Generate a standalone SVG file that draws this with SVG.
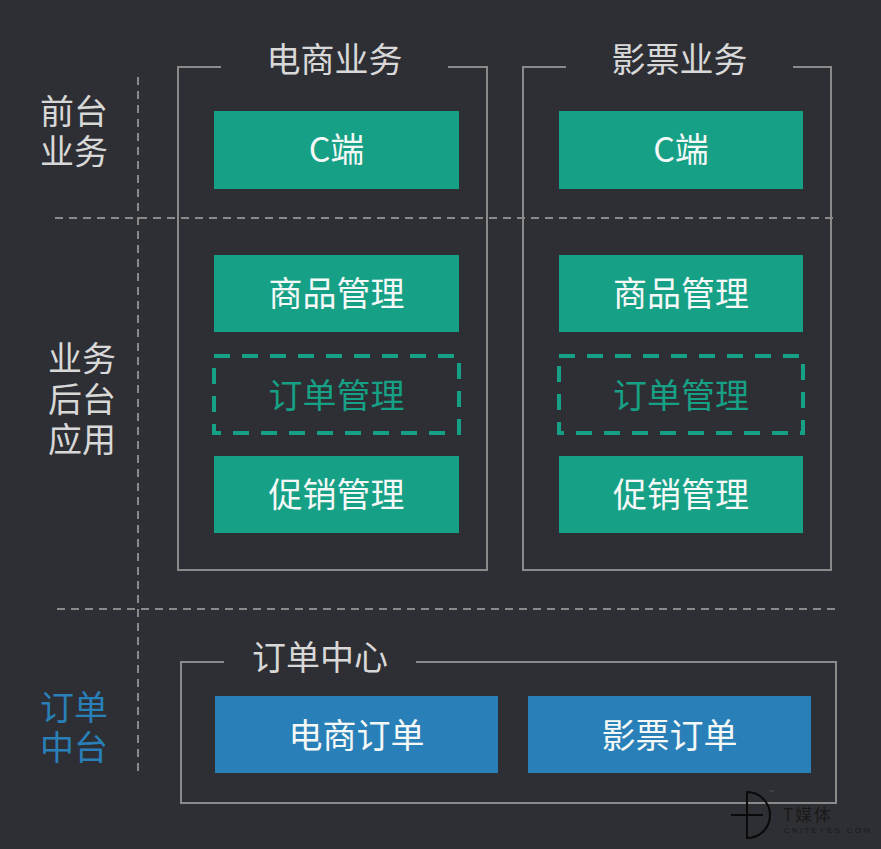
<svg xmlns="http://www.w3.org/2000/svg" width="881" height="849" viewBox="0 0 881 849">
<style>
text{font-family:"Noto Sans CJK SC","Noto Sans",sans-serif;font-size:34px;text-anchor:middle}
.l{fill:#d8d8d8}
.w{fill:#f4f8f6}
.g{fill:#16a085}
.b{fill:#2980b9}
.box{fill:none;stroke:#8a8a8a;stroke-width:2}
.div{fill:none;stroke:#8a8a8a;stroke-width:2;stroke-dasharray:8 6}
.dash{fill:none;stroke:#16a085;stroke-width:4;stroke-dasharray:16 12}
</style>
<rect width="881" height="849" fill="#2e2f34"/>
<g id="connectors">
<path class="div" d="M138 77V772"/>
<path class="div" d="M55 218H833"/>
<path class="div" d="M57 609H836"/>
</g>
<g id="group-ecommerce"><path class="box" d="M221 67H178V570H487V67H448"/><text class="l" x="334.500" y="72">电商业务</text></g>
<g id="group-movie"><path class="box" d="M566 67H523V570H831V67H793"/><text class="l" x="679.500" y="72">影票业务</text></g>
<g id="group-order"><path class="box" d="M224 662H181V803H836V662H416"/><text class="l" x="320" y="670">订单中心</text></g>
<g id="label-front"><text class="l"><tspan x="74" y="124">前台</tspan><tspan x="74" y="164">业务</tspan></text></g>
<g id="label-back"><text class="l"><tspan x="82" y="371">业务</tspan><tspan x="82" y="412">后台</tspan><tspan x="82" y="452">应用</tspan></text></g>
<g id="label-middle"><text class="b"><tspan x="74" y="720">订单</tspan><tspan x="74" y="760">中台</tspan></text></g>
<g id="c1"><rect class="g" x="214" y="111" width="245" height="78"/><text class="w" x="336.500" y="162">C端</text></g>
<g id="c2"><rect class="g" x="559" y="111" width="244" height="78"/><text class="w" x="681" y="162">C端</text></g>
<g id="goods1"><rect class="g" x="214" y="255" width="245" height="77"/><text class="w" x="336.500" y="306">商品管理</text></g>
<g id="goods2"><rect class="g" x="559" y="255" width="244" height="77"/><text class="w" x="681" y="306">商品管理</text></g>
<g id="order1"><path class="dash" d="M214 356H459V433H214Z"/><text class="g" x="336.500" y="408">订单管理</text></g>
<g id="order2"><path class="dash" d="M559 356H803V433H559Z"/><text class="g" x="681" y="408">订单管理</text></g>
<g id="promo1"><rect class="g" x="214" y="456" width="245" height="77"/><text class="w" x="336.500" y="507">促销管理</text></g>
<g id="promo2"><rect class="g" x="559" y="456" width="244" height="77"/><text class="w" x="681" y="507">促销管理</text></g>
<g id="order-ec"><rect class="b" x="215" y="696" width="283" height="77"/><text class="w" x="356.500" y="748">电商订单</text></g>
<g id="order-movie"><rect class="b" x="528" y="696" width="283" height="77"/><text class="w" x="669.500" y="748">影票订单</text></g>
<g id="logo">
<path d="M747 792C761 792 770 804 770 815C770 827 761 838 747 838Z" fill="none" stroke="#0a0a0a" stroke-width="2"/>
<path d="M731 815H763" stroke="#0a0a0a" stroke-width="2"/>
<text x="771" y="794" style="font-size:6px;font-family:'Liberation Sans',sans-serif" fill="#555">™</text>
<text x="808" y="821" style="font-size:17px;letter-spacing:2px" fill="#1a1a1a">T媒体</text>
<text x="828" y="833" style="font-size:8px;letter-spacing:2.300px;font-family:'Liberation Sans',sans-serif" fill="#1a1a1a">CNITEYES.COM</text>
</g>
</svg>
